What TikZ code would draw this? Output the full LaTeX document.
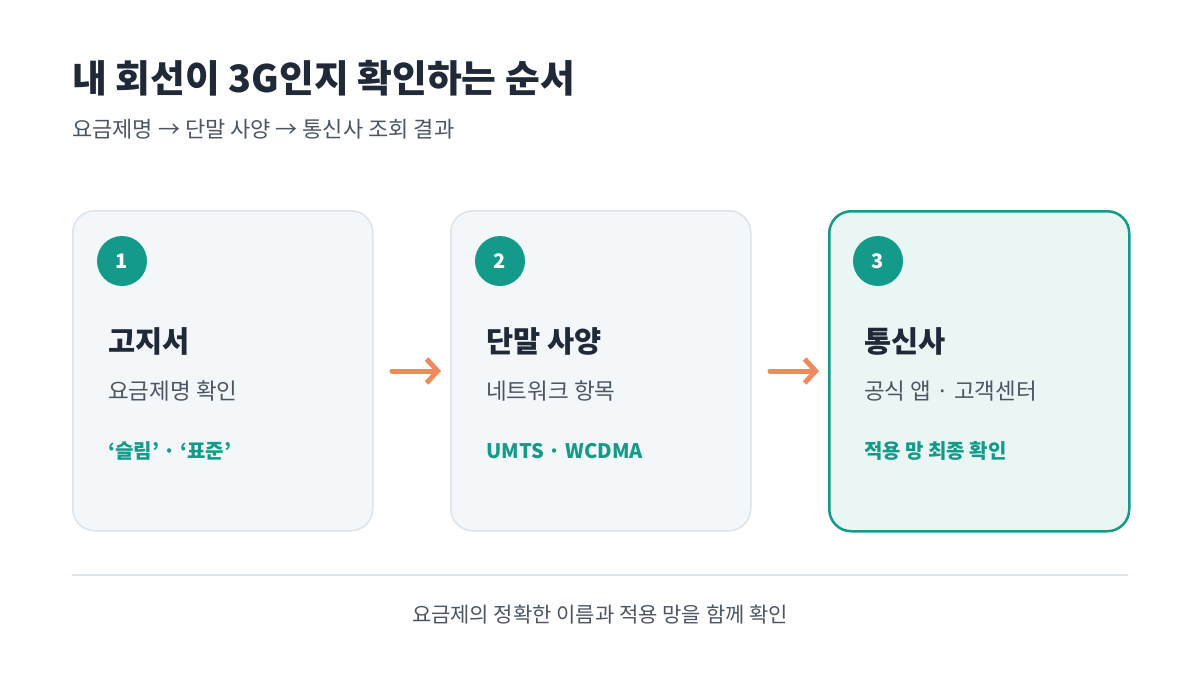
\documentclass[tikz,border=0pt]{standalone}
\usepackage{fontspec}
\setmainfont{Noto Sans CJK KR}
\usetikzlibrary{arrows.meta}
\definecolor{ink}{HTML}{1F2937}
\definecolor{gry}{HTML}{4B5563}
\definecolor{teal}{HTML}{149A8A}
\definecolor{cardbg}{HTML}{F3F7FA}
\definecolor{cardln}{HTML}{DDE3EA}
\definecolor{hibg}{HTML}{EAF6F3}
\definecolor{org}{HTML}{F08A5D}
\tikzset{
 card/.style={draw=cardln,line width=1.5pt,fill=cardbg,rounded corners=22pt,minimum width=300pt,minimum height=320pt,anchor=north west},
 hicard/.style={card,draw=teal,line width=2.5pt,fill=hibg},
 num/.style={circle,fill=teal,minimum size=50pt,inner sep=0,text=white,font=\fontsize{20}{20}\selectfont\bfseries},
 ttl/.style={anchor=west,text=ink,font=\fontsize{29.5}{29.5}\selectfont\bfseries,inner sep=0},
 sub/.style={anchor=west,text=gry,font=\fontsize{22.5}{22.5}\selectfont,inner sep=0},
 tag/.style={anchor=west,text=teal,font=\fontsize{20}{20}\selectfont\bfseries,inner sep=0},
 arr/.style={draw=org,line width=5pt,-{Straight Barb[length=11pt,width=24pt,line width=5pt]},line cap=round}
}
\begin{document}
\begin{tikzpicture}[x=1pt,y=-1pt]
\useasboundingbox[fill=white] (0,0) rectangle (1200,675);
\node[anchor=west,text=ink,font=\fontsize{37.8}{37.8}\selectfont\bfseries,inner sep=0] (title) at (72,78) {내 회선이 3G인지 확인하는 순서};
\node[anchor=west,text=gry,font=\fontsize{22}{22}\selectfont,inner sep=0] (subtitle) at (72,129) {요금제명 → 단말 사양 → 통신사 조회 결과};
\node[card] (c1) at (72,210) {};
\node[card] (c2) at (450,210) {};
\node[hicard] (c3) at (828,210) {};
\node[num] (n1) at (122,261) {1};
\node[num] (n2) at (500,261) {2};
\node[num] (n3) at (878,261) {3};
\node[ttl] (t1) at (108,341) {고지서};
\node[ttl] (t2) at (486,341) {단말 사양};
\node[ttl] (t3) at (864,341) {통신사};
\node[sub] (s1) at (108,391) {요금제명 확인};
\node[sub] (s2) at (486,391) {네트워크 항목};
\node[sub] (s3) at (864,391) {공식 앱 · 고객센터};
\node[tag] (g1) at (108,451) {‘슬림’ · ‘표준’};
\node[tag] (g2) at (486,451) {UMTS · WCDMA};
\node[tag] (g3) at (864,451) {적용 망 최종 확인};
\coordinate (a1s) at (392,371); \coordinate (a1e) at (441,371);
\coordinate (a2s) at (770,371); \coordinate (a2e) at (819,371);
\draw[arr] (a1s) -- (a1e);
\draw[arr] (a2s) -- (a2e);
\coordinate (l1) at (72,575); \coordinate (l2) at (1128,575);
\draw[draw=cardln,line width=1.2pt] (l1) -- (l2);
\node[text=gry,font=\fontsize{21}{21}\selectfont,inner sep=0] (foot) at (600,615) {요금제의 정확한 이름과 적용 망을 함께 확인};
\end{tikzpicture}
\end{document}
